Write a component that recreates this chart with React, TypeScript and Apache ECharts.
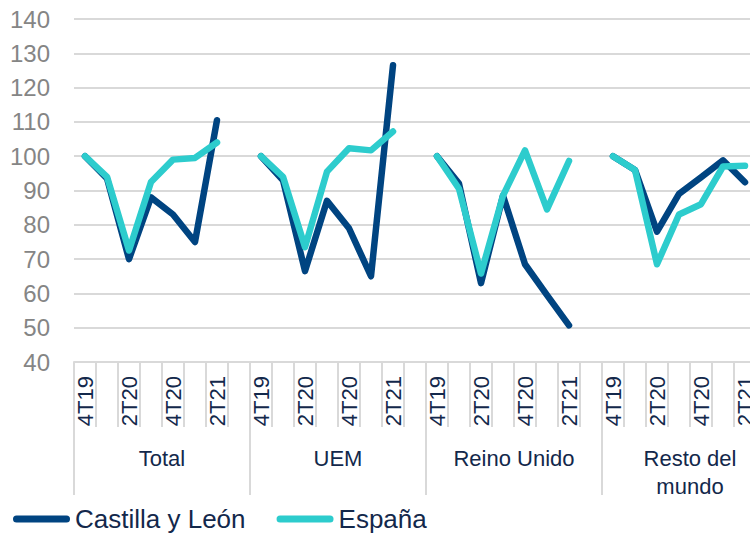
import React, { useEffect, useRef } from "react";
import * as echarts from "echarts";

const groups = ["Total", "UEM", "Reino Unido", "Resto del\nmundo"];
const quarters = ["4T19", "1T20", "2T20", "3T20", "4T20", "1T21", "2T21", ""];

const castillaTotal = [100, 93.5, 70, 88, 83, 75, 110.5];
const castillaUEM = [100, 93, 66.5, 87, 79, 65, 126.5];
const castillaRU = [100, 92, 63, 88.5, 68.5, 59.5, 50.7];
const castillaResto = [100, 96, 78, 89, 93.8, 98.8, 92.4];

const espanaTotal = [100, 94, 72.5, 92.5, 99, 99.5, 104];
const espanaUEM = [100, 94, 73.5, 95.5, 102.3, 101.7, 107.2];
const espanaRU = [100, 90.5, 65.8, 88.5, 101.7, 84.5, 98.6];
const espanaResto = [100, 96, 68.5, 83, 86, 97, 97.2];

const yTicks = { min: 40, max: 140, interval: 10 };

const build = (parts: number[][]) =>
  parts.flatMap((p) => [...p, null as number | null]);

const FONT = "'Liberation Sans', Arial, sans-serif";
const NAVY = "#004481";
const TEAL = "#2dcccd";
const GRID = "#d9d9d9";
const TEXT = "#13284b";
const PILL = "path://M3.5,0 H53.5 A3.5,3.5 0 0 1 53.5,7 H3.5 A3.5,3.5 0 0 1 3.5,0 Z";

const CHART_W = 790;

export default function App() {
  const ref = useRef<HTMLDivElement>(null);
  useEffect(() => {
    if (!ref.current) return;
    const chart = echarts.init(ref.current, undefined, { renderer: "svg" });
    const categories = groups.flatMap(() => quarters);
    chart.setOption({
      animation: false,
      grid: { left: 74, right: CHART_W - 778, top: 19, bottom: 173, containLabel: false },
      legend: {
        left: 8,
        top: 501,
        itemWidth: 57,
        itemHeight: 7,
        itemGap: 31,
        textStyle: { fontFamily: FONT, fontSize: 26, color: TEXT },
        data: [
          { name: "Castilla y León", icon: PILL },
          { name: "España", icon: PILL },
        ],
      },
      xAxis: [
        {
          type: "category",
          data: categories,
          boundaryGap: true,
          axisLine: { show: true, lineStyle: { color: GRID, width: 2 } },
          axisTick: { show: true, interval: 0, length: 65, lineStyle: { color: GRID, width: 2 } },
          axisLabel: {
            interval: 1,
            rotate: 90,
            margin: 14,
            fontFamily: FONT,
            fontSize: 22,
            color: TEXT,
          },
          splitLine: { show: false },
        },
        {
          type: "category",
          data: groups,
          position: "bottom",
          boundaryGap: true,
          axisLine: { show: false },
          axisTick: { show: true, interval: 0, length: 133, lineStyle: { color: GRID, width: 2 } },
          axisLabel: {
            interval: 0,
            margin: 82,
            fontFamily: FONT,
            fontSize: 22,
            lineHeight: 28,
            color: TEXT,
          },
          splitLine: { show: false },
        },
      ],
      yAxis: {
        type: "value",
        min: yTicks.min,
        max: yTicks.max,
        interval: yTicks.interval,
        axisLine: { show: false },
        axisTick: { show: false },
        axisLabel: { margin: 24, fontFamily: FONT, fontSize: 24, color: "#858585" },
        splitLine: { lineStyle: { color: GRID, width: 2 } },
      },
      series: [
        {
          name: "Castilla y León",
          type: "line",
          xAxisIndex: 0,
          data: build([castillaTotal, castillaUEM, castillaRU, castillaResto]),
          connectNulls: false,
          symbol: "none",
          lineStyle: { color: NAVY, width: 6.5, cap: "round", join: "round" },
          itemStyle: { color: NAVY },
        },
        {
          name: "España",
          type: "line",
          xAxisIndex: 0,
          data: build([espanaTotal, espanaUEM, espanaRU, espanaResto]),
          connectNulls: false,
          symbol: "none",
          lineStyle: { color: TEAL, width: 6.5, cap: "round", join: "round" },
          itemStyle: { color: TEAL },
        },
      ],
    });
    return () => chart.dispose();
  }, []);
  return (
    <div
      style={{
        position: "absolute",
        left: 0,
        top: 0,
        width: 750,
        height: 535,
        overflow: "hidden",
        background: "#fff",
      }}
    >
      <div ref={ref} style={{ width: CHART_W, height: 535 }} />
    </div>
  );
}
